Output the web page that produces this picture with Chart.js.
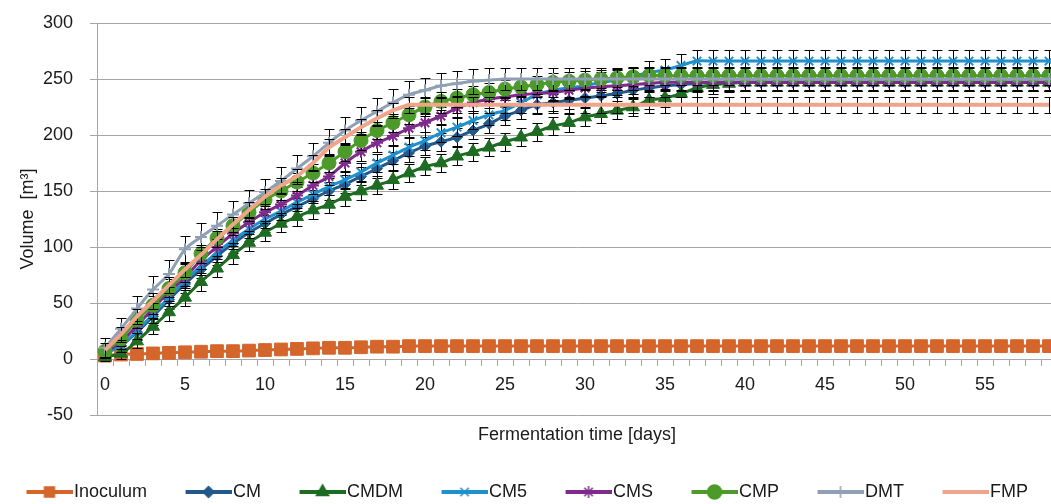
<!DOCTYPE html>
<html>
<head>
<meta charset="utf-8">
<script src="https://cdn.jsdelivr.net/npm/chart.js@4/dist/chart.umd.min.js"></script>
<style>
  html,body{margin:0;padding:0;background:#fff;overflow:hidden;}
  #wrap{width:1085px;height:511px;position:relative;}
</style>
</head>
<body>
<div id="wrap"><canvas id="chart"></canvas></div>
<script>
/* =========================
   Dados
   ========================= */
const days = [
  0,1,2,3,4,5,6,7,8,9,
  10,11,12,13,14,15,16,17,18,19,
  20,21,22,23,24,25,26,27,28,29,
  30,31,32,33,34,35,36,37,38,39,
  40,41,42,43,44,45,46,47,48,49,
  50,51,52,53,54,55,56,57,58,59
];
const yTicks = [-50,0,50,100,150,200,250,300];

const inoculum = [
  3,4,4.5,5,5.5,6,6.5,7,7,7.5,
  8,8.5,9,9.5,10,10,10.5,11,11,11.5,
  11.5,11.5,11.5,11.5,11.5,11.5,11.5,11.5,11.5,11.5,
  11.5,11.5,11.5,11.5,11.5,11.5,11.5,11.5,11.5,11.5,
  11.5,11.5,11.5,11.5,11.5,11.5,11.5,11.5,11.5,11.5,
  11.5,11.5,11.5,11.5,11.5,11.5,11.5,11.5,11.5,11.5
];
const cm = [
  5,12,24,38,53,67,80,92,103,113,
  121,129,136,143,150,156,163,170,177,184,
  190,194,198,204,210,217,222,227,229,231,
  233,235,237,240,242,244,245,246,247,247,
  247,247,247,247,247,247,247,247,247,247,
  247,247,247,247,247,247,247,247,247,247
];
const cmErr = [
  4,6,7,8,8,8,8,8,8,8,
  8,8,8,8,8,8,8,8,8,8,
  8,8,8,8,8,8,8,8,8,8,
  8,8,8,8,8,8,8,8,8,8,
  8,8,8,8,8,8,8,8,8,8,
  8,8,8,8,8,8,8,8,8,8
];
const cmdm = [
  2,5,16,29,42,55,69,81,93,104,
  113,121,127,133,138,145,150,155,160,166,
  172,175,181,185,189,194,198,203,208,211,
  216,219,222,225,231,233,237,242,245,246,
  247,247,247,247,247,247,247,247,247,247,
  247,247,247,247,247,247,247,247,247,247
];
const cmdmErr = [
  4,5,6,7,8,8,8,8,8,8,
  8,8,8,8,8,8,8,8,8,8,
  8,8,8,8,8,8,8,8,8,8,
  8,8,8,8,8,8,8,8,8,8,
  8,8,8,8,8,8,8,8,8,8,
  8,8,8,8,8,8,8,8,8,8
];
const cm5 = [
  5,12,25,40,55,70,83,95,106,116,
  125,132,140,147,154,160,167,175,182,189,
  195,202,207,213,218,222,229,236,240,242,
  244,247,249,252,256,258,262,266,266,266,
  266,266,266,266,266,266,266,266,266,266,
  266,266,266,266,266,266,266,266,266,266
];
const cm5Err = [
  4,6,7,8,8,8,8,8,8,8,
  8,8,8,8,8,8,8,8,8,8,
  8,8,8,8,9,9,9,9,9,9,
  9,9,9,9,10,10,10,10,10,10,
  10,10,10,10,10,10,10,10,10,10,
  10,10,10,10,10,10,10,10,10,10
];
const cms = [
  6,15,30,45,60,73,88,100,112,122,
  131,138,146,155,163,175,185,193,199,206,
  211,217,224,229,232,234,236,237,238,240,
  242,243,244,245,246,247,247,247,247,247,
  247,247,247,247,247,247,247,247,247,247,
  247,247,247,247,247,247,247,247,247,247
];
const cmsErr = [
  4,6,7,8,8,8,8,8,8,8,
  8,8,8,8,8,8,8,8,8,8,
  8,8,8,8,8,8,8,8,8,8,
  8,8,8,8,8,8,8,8,8,8,
  8,8,8,8,8,8,8,8,8,8,
  8,8,8,8,8,8,8,8,8,8
];
const cmp = [
  7,18,35,48,63,77,94,108,119,131,
  142,150,158,166,175,185,195,204,211,218,
  225,230,233,236,238,241,243,245,247,248,
  249,250,251,252,253,253,253,253,253,253,
  253,253,253,253,253,253,253,253,253,253,
  253,253,253,253,253,253,253,253,253,253
];
const cmpErr = [
  5,6,7,8,8,8,8,8,8,8,
  8,8,8,8,8,8,8,8,8,8,
  8,8,8,8,8,8,8,8,8,8,
  8,8,8,8,8,8,8,8,8,8,
  8,8,8,8,8,8,8,8,8,8,
  8,8,8,8,8,8,8,8,8,8
];
const dmt = [
  10,27,45,62,76,98,109,119,129,139,
  149,159,170,181,193,204,213,221,229,236,
  240,244,246,248,249,250,250,250,250,250,
  250,250,250,250,250,250,250,250,250,250,
  250,250,250,250,250,250,250,250,250,250,
  250,250,250,250,250,250,250,250,250,250
];
const dmtErr = [
  9,10,11,12,12,12,12,12,12,12,
  12,12,12,12,12,12,12,12,12,12,
  11,11,11,11,11,10,10,10,10,10,
  10,10,10,10,10,10,10,10,10,10,
  10,10,10,10,10,10,10,10,10,10,
  10,10,10,10,10,10,10,10,10,10
];
const fmp = [
  8,22,38,52,66,80,93,107,120,133,
  145,155,163,175,189,198,207,215,222,227,
  227,227,227,227,227,227,227,227,227,227,
  227,227,227,227,227,227,227,227,227,227,
  227,227,227,227,227,227,227,227,227,227,
  227,227,227,227,227,227,227,227,227,227
];
const fmpErr = [
  6,7,7,7,7,7,7,7,7,7,
  7,7,7,7,7,7,7,7,7,7,
  7,7,7,7,7,7,7,7,7,7,
  7,7,7,7,7,7,7,7,7,7,
  7,7,7,7,7,7,7,7,7,7,
  7,7,7,7,7,7,7,7,7,7
];

/* =========================
   Estilo
   ========================= */
const FONT = {family:"'Liberation Sans', Arial, sans-serif", size:18};
const TXT = '#1a1a1a';
const GRID = '#a6a6a6';

// [label, data, erros, cor, pointStyle, raio, tension]
const series = [
  ['Inoculum', inoculum, null,    '#d4652b', 'rect',     9,   0.3],
  ['CM',       cm,       cmErr,   '#22598a', 'rectRot',  5.5, 0.3],
  ['CMDM',     cmdm,     cmdmErr, '#1e6b22', 'triangle', 7.5, 0.3],
  ['CM5',      cm5,      cm5Err,  '#1e90cc', 'crossRot', 6,   0.3],
  ['CMS',      cms,      cmsErr,  '#7e2b8c', 'star',     6,   0.3],
  ['CMP',      cmp,      cmpErr,  '#4c9a2a', 'circle',   7,   0.3],
  ['DMT',      dmt,      dmtErr,  '#8fa0b4', 'cross',    6,   0.3],
  ['FMP',      fmp,      fmpErr,  '#f0a48a', false,      0,   0]
];

/* ícone da legenda: linha + marcador.
   A caixa da legenda tem 71px; o ícone visível (46px) fica encostado no texto */
const BOXW = 71;
function legendIcon(color, style, r){
  const c = document.createElement('canvas');
  c.width = 86; c.height = 18;          // centrado na caixa -> começa 7px antes dela
  const g = c.getContext('2d');
  g.strokeStyle = color; g.lineWidth = 4;
  g.beginPath(); g.moveTo(40,9); g.lineTo(86,9); g.stroke();
  if(style){
    g.fillStyle = color; g.lineWidth = 1.5;
    Chart.helpers.drawPoint(g, {pointStyle:style, radius:Math.min(r,7), borderWidth:1.5, rotation:0}, 63, 9);
  }
  return c;
}

/* barras de erro desenhadas antes de cada série (como no Excel) */
const errorBars = {
  id:'errorBars',
  beforeDatasetDraw(chart, args){
    const ds = chart.data.datasets[args.index];
    if(!ds.errors) return;
    const ys = chart.scales.y, ctx = chart.ctx;
    ctx.save();
    ctx.strokeStyle = '#000'; ctx.lineWidth = 1;
    ctx.beginPath();
    args.meta.data.forEach((pt,i)=>{
      const v = ds.data[i], e = ds.errors[i];
      const x = Math.round(pt.x)+0.5;
      const y1 = Math.round(ys.getPixelForValue(v+e))+0.5;
      const y2 = Math.round(ys.getPixelForValue(v-e))+0.5;
      ctx.moveTo(x,y1); ctx.lineTo(x,y2);
      ctx.moveTo(x-5,y1); ctx.lineTo(x+5,y1);
      ctx.moveTo(x-5,y2); ctx.lineTo(x+5,y2);
    });
    ctx.stroke();
    ctx.restore();
  }
};

const datasets = series.map((s,i)=>({
  label:s[0], data:s[1], errors:s[2],
  borderColor:s[3], backgroundColor:s[3],
  borderWidth: s[4] ? 3 : 4,
  pointStyle:s[4], pointRadius:s[5], pointHoverRadius:s[5],
  pointBorderWidth: (s[4]==='crossRot'||s[4]==='cross'||s[4]==='star') ? 2 : 1,
  tension:s[6],
  order: 8-i
}));
const icons = series.map(s=>legendIcon(s[3], s[4], s[5]));

const PAD_L = -12;   // o gráfico original foi recortado à esquerda/direita

new Chart(document.getElementById('chart'),{
  type:'line',
  data:{labels:days, datasets},
  plugins:[errorBars],
  options:{
    responsive:true,
    maintainAspectRatio:false,
    animation:false,
    layout:{padding:{top:23,right:28,left:PAD_L,bottom:0}},
    plugins:{
      tooltip:{enabled:false},
      legend:{
        position:'bottom', align:'start',
        labels:{
          usePointStyle:true, pointStyleWidth:BOXW, padding:6,
          font:FONT, color:TXT,
          generateLabels:()=>datasets.map((d,i)=>({
            text:d.label, pointStyle:icons[i], datasetIndex:i,
            fillStyle:d.borderColor, strokeStyle:d.borderColor,
            lineWidth:0, hidden:false, fontColor:TXT
          }))
        }
      }
    },
    scales:{
      x:{
        type:'category', offset:true,
        position:{y:0},
        grid:{offset:true, drawOnChartArea:false, drawTicks:true, tickLength:6, color:GRID},
        border:{color:GRID},
        ticks:{
          autoSkip:false, maxRotation:0, padding:9, font:FONT, color:TXT,
          callback:(v,i)=> i%5===0 ? String(days[i]) : ''
        }
      },
      x2:{
        type:'category', position:'bottom',
        grid:{display:false}, border:{display:false},
        ticks:{display:false},
        title:{display:true, text:'Fermentation time [days]', font:FONT, color:TXT, padding:{top:0,bottom:31}},
        afterFit:(s)=>{ s.height = 62; }
      },
      y:{
        min:-50, max:300,
        afterBuildTicks:(s)=>{ s.ticks = yTicks.map(v=>({value:v})); },
        grid:{color:GRID, tickLength:7},
        border:{color:GRID},
        ticks:{font:FONT, color:TXT, padding:17},
        title:{display:true, text:'Volume  [m³]', font:FONT, color:TXT, padding:{top:29,bottom:0}},
        afterFit:(s)=>{ s.width = 97 - PAD_L; s.paddingTop = 0; s.paddingBottom = 0; }
      }
    }
  }
});
</script>
</body>
</html>
